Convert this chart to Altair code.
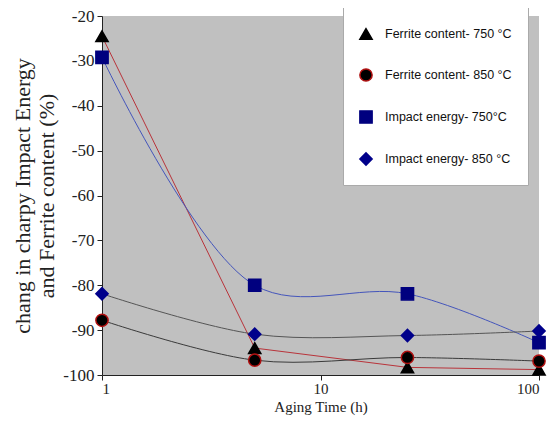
import altair as alt
import pandas as pd

hours = [1, 5, 25, 100]
series_names = ["Ferrite content- 750 °C", "Ferrite content- 850 °C",
                "Impact energy- 750°C", "Impact energy- 850 °C"]
ferrite_750 = [-24.5, -94.0, -98.3, -98.8]
ferrite_850 = [-87.8, -96.7, -96.1, -96.9]
impact_750 = [-29.2, -80.0, -81.9, -92.8]
impact_850 = [-81.9, -90.9, -91.2, -90.2]

line_colors = ["#b8333a", "#3a3a3a", "#4455bb", "#555555"]
marker_fill = ["#000000", "#000000", "#00007f", "#00008b"]
marker_stroke = ["#000000", "#b01010", "#00007f", "#00008b"]
shapes = ["triangle-up", "circle", "square", "diamond"]
interps = ["linear", "catmull-rom", "catmull-rom", "catmull-rom"]

rows = []
for name, vals in zip(series_names, [ferrite_750, ferrite_850, impact_750, impact_850]):
    for h, v in zip(hours, vals):
        rows.append({"h": h, "v": v, "s": name})
df = pd.DataFrame(rows)

serif = "Liberation Serif"
xenc = alt.X("h:Q", scale=alt.Scale(type="log", domain=[1, 100], nice=False),
             axis=alt.Axis(values=[1, 10, 100], title="Aging Time (h)", grid=False,
                           labelFont=serif, labelFontSize=15, labelColor="#222",
                           titleFont=serif, titleFontSize=15, titleFontWeight="normal",
                           titleColor="#222", tickSize=5, domainColor="#222", tickColor="#222",
                           labelPadding=1, titlePadding=3, labelExpr="'' + datum.value"))
yenc = alt.Y("v:Q", scale=alt.Scale(domain=[-100, -20], nice=False),
             axis=alt.Axis(values=list(range(-100, -19, 10)),
                           title=["chang in charpy Impact Energy", "and Ferrite content (%)"],
                           grid=False, labelFont=serif, labelFontSize=17,
                           labelColor="#222", titleFont=serif, titleFontSize=22,
                           titleFontWeight="normal", titleColor="#222", tickSize=5,
                           domainColor="#222", tickColor="#222", labelPadding=3,
                           titlePadding=4, titleLineHeight=24,
                           labelExpr="'' + datum.value"))

layers = []
for name, col, itp in zip(series_names, line_colors, interps):
    layers.append(
        alt.Chart(df).transform_filter(alt.datum.s == name)
        .mark_line(color=col, strokeWidth=1, interpolate=itp)
        .encode(x=xenc, y=yenc)
    )

dom = series_names
leg = alt.Legend(title=" ")
points = alt.Chart(df).mark_point(filled=True, size=150, strokeWidth=1.5, opacity=1).encode(
    x=xenc, y=yenc,
    shape=alt.Shape("s:N", scale=alt.Scale(domain=dom, range=shapes), legend=leg),
    fill=alt.Fill("s:N", scale=alt.Scale(domain=dom, range=marker_fill), legend=leg),
    stroke=alt.Stroke("s:N", scale=alt.Scale(domain=dom, range=marker_stroke), legend=leg),
)
layers.append(points)

chart = alt.layer(*layers).properties(
    width=437, height=359,
    autosize=alt.AutoSizeParams(type="none"),
    padding={"left": 94, "top": 8, "right": 12, "bottom": 42},
).configure_view(fill="#c0c0c0", stroke=None).configure_axis(
    labelFont=serif, titleFont=serif
).configure_legend(
    orient="none", legendX=241, legendY=-18, fillColor="white", strokeColor="#aaaaaa",
    padding=16, rowPadding=22, labelFont="Liberation Sans", labelFontSize=12.5,
    labelColor="#111", symbolSize=150, symbolStrokeWidth=1.5, labelOffset=12,
    labelLimit=400, titleFontSize=10, titlePadding=3,
)

chart.save("out.html", embed_options={"renderer": "svg", "actions": False})
